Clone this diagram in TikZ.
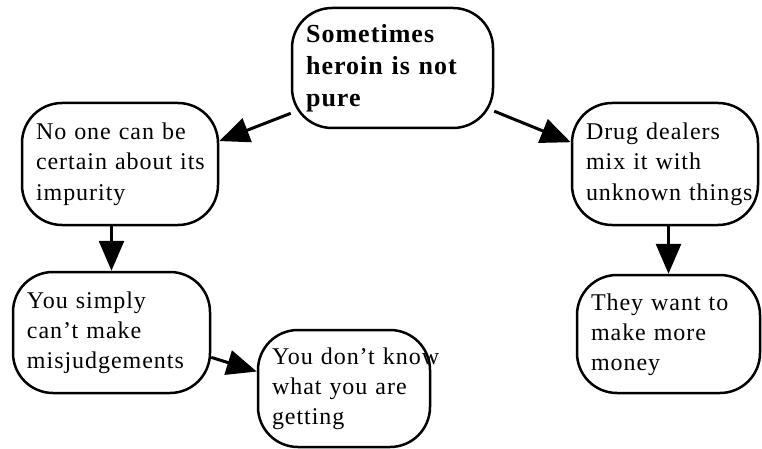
\documentclass[tikz,border=0pt]{standalone}
\usepackage{fontspec}
\setmainfont[LetterSpace=4]{Liberation Serif}
\usepackage{tikz}
\usetikzlibrary{arrows.meta,shapes}
\tikzstyle{bubble}=[rectangle,rounded corners=40pt,draw,line width=2.5pt,inner xsep=14pt,inner ysep=0pt,align=left,font=\fontsize{24}{30}\selectfont]
\tikzstyle{edge} = [draw,line width=3pt,-{Triangle[length=30pt,width=25pt]}]

\begin{document}
\begin{tikzpicture}[x=1pt,y=-1pt]
  \useasboundingbox (0,0) rectangle (762,449);

  \node[bubble,minimum width=201pt,minimum height=120pt,text width=173pt,font=\fontsize{26}{32}\selectfont\bfseries] (top) at (392.5,68) {\begin{tabular}{@{}l@{}}Sometimes\\heroin is not\\pure\end{tabular}};

  \foreach \pos/\name/\w/\h/\label in {{(120,164)/certain/196/122/{No one can be\\certain about its\\impurity}},
      {(111.5,332.5)/simply/197/121/{You simply\\can't make\\misjudgements}},
      {(344,388.5)/getting/172/117/{You don't know\\what you are\\getting}},
      {(665,164)/dealers/186/122/{Drug dealers\\mix it with\\unknown things}},
      {(668.5,334)/money/183/118/{They want to\\make more\\money}}}
    {
    \pgfmathsetmacro{\tw}{\w-28}
    \node[bubble,minimum width=\w pt,minimum height=\h pt,text width=\tw pt] (\name) at \pos {\begin{tabular}{@{}l@{}}\label\end{tabular}};
    }

  \foreach \source/\dest in {top.204/certain.13, top.337/dealers.167, simply.346/getting.169}
        \path[edge] (\source) -- (\dest);
  \path[edge] (simply.north |- certain.south) -- (simply.north);
  \path[edge] (money.north |- dealers.south) -- (money.north);

\end{tikzpicture}
\end{document}
